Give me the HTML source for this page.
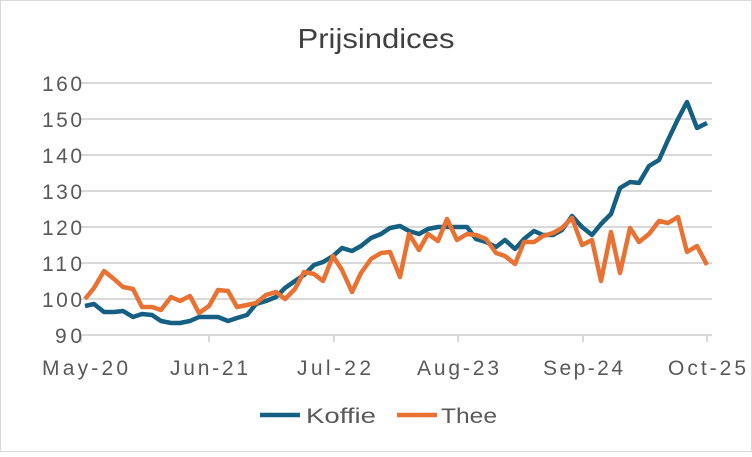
<!DOCTYPE html><html><head><style>body{margin:0;background:#fff}</style></head><body>
<svg width="752" height="452" xmlns="http://www.w3.org/2000/svg" font-family="Liberation Sans, sans-serif">
<rect x="0.5" y="0.5" width="751" height="451" fill="#fff" stroke="#d9d9d9"/>
<text x="376" y="48" text-anchor="middle" font-size="28" fill="#404040" textLength="157" lengthAdjust="spacingAndGlyphs">Prijsindices</text>
<g stroke="#d9d9d9" stroke-width="2">
<line x1="80" x2="712" y1="83" y2="83"/><line x1="80" x2="712" y1="119" y2="119"/><line x1="80" x2="712" y1="155" y2="155"/><line x1="80" x2="712" y1="191" y2="191"/><line x1="80" x2="712" y1="227" y2="227"/><line x1="80" x2="712" y1="263" y2="263"/><line x1="80" x2="712" y1="299" y2="299"/><line x1="80" x2="712" y1="335" y2="335"/>
<line x1="81" x2="81" y1="335" y2="342"/><line x1="209" x2="209" y1="335" y2="342"/><line x1="334" x2="334" y1="335" y2="342"/><line x1="458" x2="458" y1="335" y2="342"/><line x1="583" x2="583" y1="335" y2="342"/><line x1="707" x2="707" y1="335" y2="342"/>
</g>
<g font-size="21" fill="#595959" lengthAdjust="spacingAndGlyphs">
<text x="42" y="91" textLength="40">160</text><text x="42" y="127" textLength="40">150</text><text x="42" y="163" textLength="40">140</text><text x="42" y="199" textLength="40">130</text><text x="42" y="235" textLength="40">120</text><text x="42" y="271" textLength="40">110</text><text x="42" y="307" textLength="40">100</text><text x="55" y="343" textLength="27">90</text>
</g>
<g font-size="21" fill="#595959" lengthAdjust="spacingAndGlyphs">
<text x="42" y="375" textLength="86">May-20</text><text x="170" y="375" textLength="78">Jun-21</text><text x="297" y="375" textLength="74">Jul-22</text><text x="417" y="375" textLength="82">Aug-23</text><text x="543" y="375" textLength="80">Sep-24</text><text x="668" y="375" textLength="78">Oct-25</text>
</g>
<polyline fill="none" stroke="#156082" stroke-width="4.5" stroke-linejoin="round" points="85,306 94,304 104,312 114,312 123,311 133,317 142,314 152,315 161,321 171,323 180,323 190,321 199,317 209,317 218,317 228,321 237,318 247,315 256,304 266,301 276,297 285,288 295,281 304,275 314,265 323,262 333,256 342,248 352,251 361,246 371,238 381,234 390,228 400,226 409,231 419,234 428,229 438,227 447,227 457,227 467,227 476,239 486,242 496,247 505,240 515,249 524,239 534,231 543,235 553,235 562,230 572,216 582,227 592,235 601,224 611,214 620,188 630,182 639,183 649,166 659,160 668,140 678,119 687,102 697,128 707,123"/>
<polyline fill="none" stroke="#e97132" stroke-width="4.5" stroke-linejoin="round" points="85,299 94,288 104,271 114,279 123,287 133,289 142,307 152,307 161,310 171,297 180,301 190,296 199,313 209,306 218,290 228,291 237,307 247,305 256,303 266,295 276,292 285,299 295,289 304,272 314,274 323,281 333,256 342,270 352,292 361,273 371,259 381,253 390,252 400,277 409,234 419,250 428,234 438,241 447,219 457,240 467,234 476,235 486,239 496,253 505,256 515,264 524,242 534,242 543,236 553,233 562,228 572,218 582,245 592,240 601,281 611,232 620,273 630,228 639,242 649,234 659,221 668,223 678,217 687,252 697,246 707,265"/>
<line x1="260" x2="300" y1="415" y2="415" stroke="#156082" stroke-width="4.5"/>
<text x="306" y="423" font-size="21" fill="#595959" textLength="70" lengthAdjust="spacingAndGlyphs">Koffie</text>
<line x1="397" x2="437" y1="415" y2="415" stroke="#e97132" stroke-width="4.5"/>
<text x="441" y="423" font-size="21" fill="#595959" textLength="56" lengthAdjust="spacingAndGlyphs">Thee</text>
</svg>
</body></html>
